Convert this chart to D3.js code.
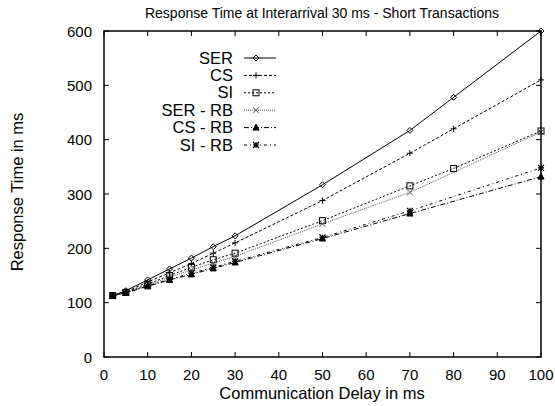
<!DOCTYPE html>
<html>
<head>
<meta charset="utf-8">
<script src="https://cdn.jsdelivr.net/npm/d3@7"></script>
<style>
  body { margin: 0; background: #fff; }
  text { font-family: "Liberation Sans", Arial, sans-serif; fill: #000; }
</style>
</head>
<body>
<div id="chart"></div>
<script>
const delays = [2, 5, 10, 15, 20, 25, 30, 50, 70, 80, 100];
const delaysRB = [2, 5, 10, 15, 20, 25, 30, 50, 70, 100];

const ser = [113, 122, 142, 162, 182, 203, 223, 317, 417, 478, 600];
const cs = [113, 120, 138, 155, 172, 191, 210, 288, 375, 420, 510];
const si = [113, 119, 134, 150, 165, 179, 191, 251, 315, 347, 416];
const serRB = [112, 118, 132, 147, 160, 173, 185, 245, 303, 414];
const csRB = [113, 118, 130, 142, 152, 163, 174, 218, 264, 332];
const siRB = [113, 118, 131, 143, 154, 165, 176, 220, 269, 348];

const seriesNames = ["SER", "CS", "SI", "SER - RB", "CS - RB", "SI - RB"];
const xTicks = [0, 10, 20, 30, 40, 50, 60, 70, 80, 90, 100];
const yTicks = [0, 100, 200, 300, 400, 500, 600];

const width = 555, height = 406;
const margin = {top: 31, right: 14, bottom: 49, left: 104};

const series = [
  {name: seriesNames[0], xs: delays, ys: ser, dash: null, mark: "diamond", color: "#000"},
  {name: seriesNames[1], xs: delays, ys: cs, dash: "3,2", mark: "plus", color: "#000"},
  {name: seriesNames[2], xs: delays, ys: si, dash: "2,2", mark: "square", color: "#000"},
  {name: seriesNames[3], xs: delaysRB, ys: serRB, dash: "1,1", mark: "cross", color: "#555"},
  {name: seriesNames[4], xs: delaysRB, ys: csRB, dash: "5,2,1,2", mark: "triangle", color: "#000"},
  {name: seriesNames[5], xs: delaysRB, ys: siRB, dash: "3,3,1,3", mark: "star", color: "#000"}
];

const svg = d3.select("#chart").append("svg")
  .attr("width", width)
  .attr("height", height);

const x = d3.scaleLinear().domain([0, 100]).range([margin.left, width - margin.right]);
const y = d3.scaleLinear().domain([0, 600]).range([height - margin.bottom, margin.top]);

// ticks (inward, mirrored)
const tickLen = 5;
const axes = svg.append("g").attr("stroke", "#000").attr("stroke-width", 1);
xTicks.forEach(t => {
  axes.append("line").attr("x1", x(t)).attr("x2", x(t)).attr("y1", y(0)).attr("y2", y(0) - tickLen);
  axes.append("line").attr("x1", x(t)).attr("x2", x(t)).attr("y1", y(600)).attr("y2", y(600) + tickLen);
});
yTicks.forEach(t => {
  axes.append("line").attr("x1", x(0)).attr("x2", x(0) + tickLen).attr("y1", y(t)).attr("y2", y(t));
  axes.append("line").attr("x1", x(100)).attr("x2", x(100) - tickLen).attr("y1", y(t)).attr("y2", y(t));
});

svg.append("g").attr("font-size", 15).attr("text-anchor", "middle")
  .selectAll("text").data(xTicks).join("text")
  .attr("x", d => x(d)).attr("y", y(0) + 23)
  .text(d => d);

svg.append("g").attr("font-size", 15).attr("text-anchor", "end")
  .selectAll("text").data(yTicks).join("text")
  .attr("x", x(0) - 12).attr("y", d => y(d) + 5.5)
  .text(d => d);

// series lines
const line = d3.line().x(d => x(d[0])).y(d => y(d[1]));

function marker(g, type, cx, cy, color) {
  const s = 3;
  if (type === "diamond") {
    g.append("path").attr("d", `M${cx},${cy - s}L${cx + s},${cy}L${cx},${cy + s}L${cx - s},${cy}Z`)
      .attr("fill", "none").attr("stroke", color);
  } else if (type === "plus") {
    g.append("path").attr("d", `M${cx - s},${cy}H${cx + s}M${cx},${cy - s}V${cy + s}`).attr("stroke", color);
  } else if (type === "square") {
    g.append("rect").attr("x", cx - s).attr("y", cy - s).attr("width", 2 * s).attr("height", 2 * s)
      .attr("fill", "none").attr("stroke", color);
  } else if (type === "cross") {
    g.append("path").attr("d", `M${cx - s},${cy - s}L${cx + s},${cy + s}M${cx - s},${cy + s}L${cx + s},${cy - s}`)
      .attr("stroke", color);
  } else if (type === "triangle") {
    g.append("path").attr("d", `M${cx},${cy - s - 0.5}L${cx + s},${cy + s - 0.5}L${cx - s},${cy + s - 0.5}Z`)
      .attr("fill", color).attr("stroke", color);
  } else if (type === "star") {
    g.append("path").attr("d", `M${cx - s},${cy}H${cx + s}M${cx},${cy - s}V${cy + s}M${cx - s},${cy - s}L${cx + s},${cy + s}M${cx - s},${cy + s}L${cx + s},${cy - s}`)
      .attr("stroke", color).attr("stroke-width", 1.2);
  }
}

const plot = svg.append("g");
series.forEach(s => {
  const pts = s.xs.map((d, i) => [d, s.ys[i]]);
  plot.append("path")
    .datum(pts)
    .attr("fill", "none")
    .attr("stroke", s.color)
    .attr("stroke-width", 1)
    .attr("stroke-dasharray", s.dash)
    .attr("d", line);
  const mg = plot.append("g").attr("stroke-width", 1);
  pts.forEach(p => marker(mg, s.mark, x(p[0]), y(p[1]), s.color));
});

// legend
const legend = svg.append("g");
series.forEach((s, i) => {
  const ly = 58 + i * 17.4;
  legend.append("text")
    .attr("x", 233).attr("y", ly + 5.5)
    .attr("font-size", 16.5).attr("text-anchor", "end")
    .text(s.name);
  legend.append("line")
    .attr("x1", 244).attr("x2", 276).attr("y1", ly).attr("y2", ly)
    .attr("stroke", s.color).attr("stroke-dasharray", s.dash);
  marker(legend, s.mark, 256, ly, s.color);
});

// frame
svg.append("rect")
  .attr("x", x(0)).attr("y", y(600))
  .attr("width", x(100) - x(0)).attr("height", y(0) - y(600))
  .attr("fill", "none").attr("stroke", "#000").attr("stroke-width", 1.5);

// titles
svg.append("text")
  .attr("x", 322).attr("y", 18)
  .attr("font-size", 14).attr("text-anchor", "middle")
  .text("Response Time at Interarrival 30 ms - Short Transactions");

svg.append("text")
  .attr("x", 322).attr("y", 399)
  .attr("font-size", 16.5).attr("text-anchor", "middle")
  .text("Communication Delay in ms");

svg.append("text")
  .attr("transform", "translate(23,192) rotate(-90)")
  .attr("font-size", 16.5).attr("text-anchor", "middle")
  .text("Response Time in ms");
</script>
</body>
</html>
